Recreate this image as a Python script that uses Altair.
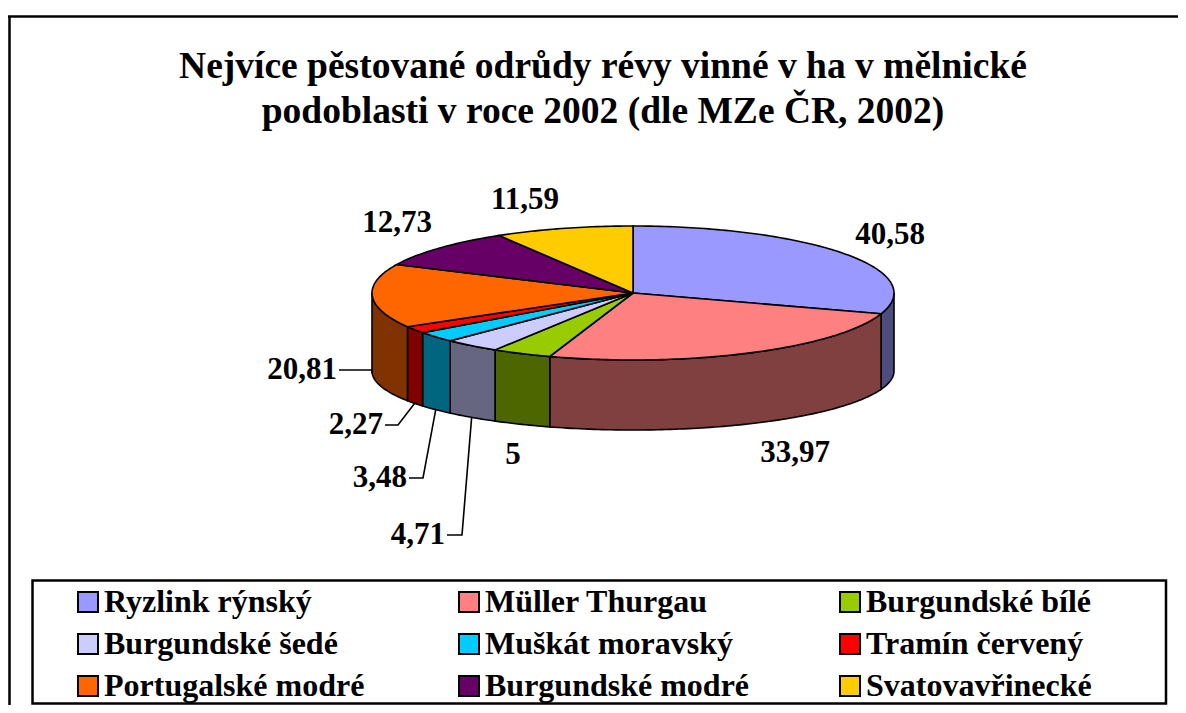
import math
import altair as alt
import pandas as pd

# ---------------- data ----------------
categories = ["Ryzlink rýnský", "Müller Thurgau", "Burgundské bílé",
              "Burgundské šedé", "Muškát moravský", "Tramín červený",
              "Portugalské modré", "Burgundské modré", "Svatovavřinecké"]
values = [40.58, 33.97, 5, 4.71, 3.48, 2.27, 20.81, 12.73, 11.59]
value_labels = ["40,58", "33,97", "5", "4,71", "3,48", "2,27", "20,81", "12,73", "11,59"]

title_lines = ["Nejvíce pěstované odrůdy révy vinné v ha v mělnické",
               "podoblasti v roce 2002 (dle MZe ČR, 2002)"]

# ---------------- styles ----------------
top_colors = ["#9999FF", "#FF8080", "#99CC00", "#CCCCFF", "#00CCFF",
              "#FF0000", "#FF6600", "#660066", "#FFCC00"]
side_colors = ["#4D4D80", "#804040", "#4D6600", "#666680", "#006680",
               "#800000", "#803300", "#330033", "#806600"]
FONT = "Liberation Serif"

# plot-area geometry (pixels inside the plot area)
W, H = 1170, 697
CX, CY_TOP, CY_BOT = 625, 285, 363
RX, RY_TOP, RY_BOT = 261, 67, 59

# label placement (plot px): (x, y, align, leader elbow x or None)
label_place = [
    (882, 227, "center", None),
    (787, 445, "center", None),
    (505, 447, "center", None),
    (437, 527, "right", 454),
    (399, 470, "right", 415),
    (375, 417, "right", 390),
    (329, 362, "right", 364),
    (389, 215, "center", None),
    (517, 192, "center", None),
]


def top_pt(deg):
    t = math.radians(deg)
    return [CX + RX * math.sin(t), CY_TOP - RY_TOP * math.cos(t)]


def bot_pt(deg):
    t = math.radians(deg)
    return [CX + RX * math.sin(t), CY_BOT - RY_BOT * math.cos(t)]


def arc_steps(a0, a1):
    n = max(2, int(math.ceil(abs(a1 - a0) / 1.0)) + 1)
    return [a0 + (a1 - a0) * i / (n - 1) for i in range(n)]


total = sum(values)
bounds = []
acc = 0.0
for v in values:
    a0 = acc / total * 360.0
    acc += v
    a1 = acc / total * 360.0
    bounds.append((a0, a1))

top_features, wall_features, leader_features = [], [], []
for name, (a0, a1), tc, sc in zip(categories, bounds, top_colors, side_colors):
    ring = [[CX, CY_TOP]] + [top_pt(a) for a in arc_steps(a0, a1)] + [[CX, CY_TOP]]
    top_features.append({"type": "Feature",
                         "geometry": {"type": "Polygon", "coordinates": [ring]},
                         "properties": {"name": name}})
    s, e = max(a0, 90.0), min(a1, 270.0)
    if e > s:
        steps = arc_steps(s, e)
        wring = [top_pt(a) for a in steps] + [bot_pt(a) for a in reversed(steps)]
        wring.append(wring[0])
        wall_features.append({"type": "Feature",
                              "geometry": {"type": "Polygon", "coordinates": [wring]},
                              "properties": {"name": name, "fill": sc}})

label_rows = []
for lab, (a0, a1), (lx, ly, al, elbow) in zip(value_labels, bounds, label_place):
    label_rows.append({"x": lx, "y": ly, "label": lab, "align": al})
    if elbow is not None:
        mid = (a0 + a1) / 2.0
        start = bot_pt(mid)
        pts = [[lx + 2, ly], [elbow, ly], start]
        leader_features.append({"type": "Feature",
                                "geometry": {"type": "LineString", "coordinates": pts},
                                "properties": {"label": lab}})

labels_df = pd.DataFrame(label_rows)

walls = alt.Chart(alt.Data(values=wall_features)).mark_geoshape(
    stroke="black", strokeWidth=1.6
).encode(color=alt.Color("properties.fill:N", scale=None))

tops = alt.Chart(alt.Data(values=top_features)).mark_geoshape(
    stroke="black", strokeWidth=1.6
).encode(
    color=alt.Color(
        "properties.name:N",
        scale=alt.Scale(domain=categories, range=top_colors),
        legend=alt.Legend(
            title=None, orient="none", legendX=24, legendY=568,
            columns=3, direction="horizontal", gridAlign="all",
            columnPadding=54, rowPadding=10,
            symbolType="square", symbolSize=400, symbolStrokeColor="black",
            symbolStrokeWidth=2, symbolOffset=30,
            labelFont=FONT, labelFontSize=32, labelFontWeight="bold",
            labelColor="black", labelOffset=0, labelLimit=0,
            padding=10,
        ),
    )
)

leaders = alt.Chart(alt.Data(values=leader_features)).mark_geoshape(
    filled=False, stroke="black", strokeWidth=1.6
)

base_text = alt.Chart(labels_df)
labels_center = base_text.transform_filter(alt.datum.align == "center").mark_text(
    font=FONT, fontSize=31, fontWeight="bold", color="black", align="center", baseline="middle"
).encode(longitude="x:Q", latitude="y:Q", text="label:N")
labels_right = base_text.transform_filter(alt.datum.align == "right").mark_text(
    font=FONT, fontSize=31, fontWeight="bold", color="black", align="right", baseline="middle"
).encode(longitude="x:Q", latitude="y:Q", text="label:N")

frame_df = pd.DataFrame({"a": [0]})
frame_top = alt.Chart(frame_df).mark_rule(color="black", strokeWidth=2.5).encode(
    x=alt.value(0), x2=alt.value(W), y=alt.value(8.5))
frame_left = alt.Chart(frame_df).mark_rule(color="black", strokeWidth=2.5).encode(
    x=alt.value(1.5), y=alt.value(8.5), y2=alt.value(H))
legend_box = alt.Chart(frame_df).mark_rect(
    filled=False, stroke="black", strokeWidth=2.5
).encode(x=alt.value(24.5), x2=alt.value(1158), y=alt.value(572.5), y2=alt.value(695.5))

chart = alt.layer(
    walls, tops, leaders, labels_center, labels_right, frame_top, frame_left, legend_box
).project(
    type="identity", scale=1, translate=[0, 0]
).resolve_scale(
    color="independent"
).properties(
    width=W, height=H, padding=0, autosize="none", background="white",
    title=alt.TitleParams(
        text=title_lines, frame="group", anchor="middle", offset=-122, dx=10,
        font=FONT, fontSize=37.5, fontWeight="bold", color="black", lineHeight=45,
    ),
).configure_view(stroke=None)

chart.save("out.html", embed_options={"renderer": "svg", "actions": False})
